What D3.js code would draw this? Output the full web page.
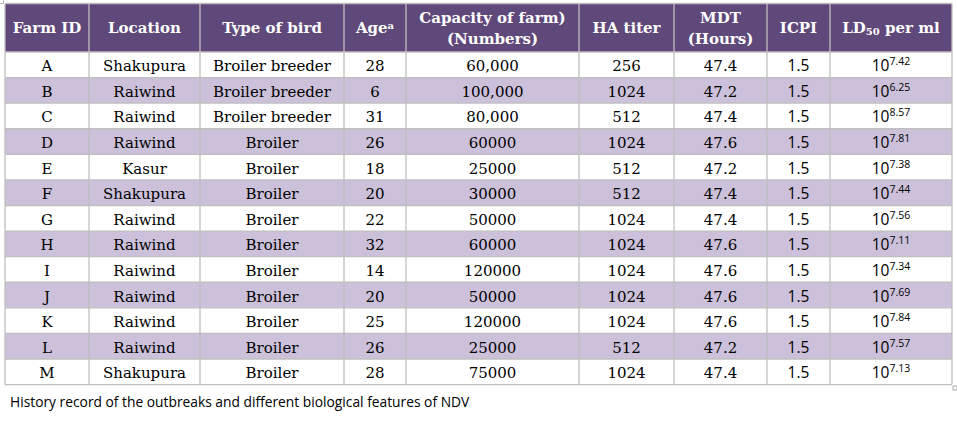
<!DOCTYPE html>
<html><head><meta charset="utf-8">
<script src="https://cdn.jsdelivr.net/npm/d3@7"></script>
<style>html,body{margin:0;padding:0;background:#fff;}svg{display:block;}</style>
</head><body>
<svg id="c" width="957" height="422"></svg>
<script>
const headers = [["Farm ID"],["Location"],["Type of bird"],["Age","a"],["Capacity of farm)","(Numbers)"],["HA titer"],["MDT","(Hours)"],["ICPI"],["LD50 per ml"]];
const farmIds = ["A","B","C","D","E","F","G","H","I","J","K","L","M"];
const locations = ["Shakupura","Raiwind","Raiwind","Raiwind","Kasur","Shakupura","Raiwind","Raiwind","Raiwind","Raiwind","Raiwind","Raiwind","Shakupura"];
const birdTypes = ["Broiler breeder","Broiler breeder","Broiler breeder","Broiler","Broiler","Broiler","Broiler","Broiler","Broiler","Broiler","Broiler","Broiler","Broiler"];
const ages = [28,6,31,26,18,20,22,32,14,20,25,26,28];
const capacities = ["60,000","100,000","80,000","60000","25000","30000","50000","60000","120000","50000","120000","25000","75000"];
const haTiters = [256,1024,512,1024,512,512,1024,1024,1024,1024,1024,512,1024];
const mdt = ["47.4","47.2","47.4","47.6","47.2","47.4","47.4","47.6","47.6","47.6","47.6","47.2","47.4"];
const icpi = ["1.5","1.5","1.5","1.5","1.5","1.5","1.5","1.5","1.5","1.5","1.5","1.5","1.5"];
const ld50Exp = ["7.42","6.25","8.57","7.81","7.38","7.44","7.56","7.11","7.34","7.69","7.84","7.57","7.13"];
const caption = "History record of the outbreaks and different biological features of NDV";

const colEdges = [5,89,200,344,406,579,674,767,830,952];
const headTop = 3.5, headBottom = 52, tableBottom = 384.6;
const serif = "'DejaVu Serif', serif", sans = "'Open Sans', 'Liberation Sans', sans-serif";

const svg = d3.select("#c");
const nRows = farmIds.length;
const y = d3.scaleBand().domain(d3.range(nRows)).range([headBottom, tableBottom]).paddingInner(0).paddingOuter(0);
const colMid = i => (colEdges[i] + colEdges[i+1]) / 2;

// header background
svg.append("rect").attr("x",colEdges[0]).attr("y",headTop).attr("width",colEdges[9]-colEdges[0]).attr("height",headBottom-headTop).attr("fill","#5F497A");
// row backgrounds
svg.selectAll("rect.row").data(d3.range(nRows)).join("rect").attr("class","row")
  .attr("x",colEdges[0]).attr("y",i=>y(i)).attr("width",colEdges[9]-colEdges[0]).attr("height",y.bandwidth())
  .attr("fill",i=> i%2===1 ? "#CCC0DA" : "#FFFFFF");

// grid lines
const grid = svg.append("g").attr("stroke","#BFBFBF").attr("stroke-width",1.3);
colEdges.forEach(x=>grid.append("line").attr("x1",x).attr("x2",x).attr("y1",headTop).attr("y2",tableBottom));
[headTop, headBottom, ...d3.range(1,nRows+1).map(i=>y(i-1)+y.bandwidth())].forEach(yy=>grid.append("line").attr("x1",colEdges[0]).attr("x2",colEdges[9]).attr("y1",yy).attr("y2",yy));

// header text
headers.forEach((h,i)=>{
  const t = svg.append("text").attr("x",colMid(i)).attr("text-anchor","middle").attr("fill","#fff").attr("font-family",serif).attr("font-weight","bold").attr("font-size",15);
  if (i===3) {
    t.attr("y",33).text("Age");
    t.append("tspan").attr("font-size",10).attr("dy",-4).text("a");
  } else if (i===8) {
    t.attr("y",33).text("LD");
    t.append("tspan").attr("font-size",10).attr("dy",2).text("50");
    t.append("tspan").attr("dy",-2).text(" per ml");
  } else if (h.length===2) {
    t.append("tspan").attr("x",colMid(i)).attr("y",22.5).text(h[0]);
    t.append("tspan").attr("x",colMid(i)).attr("y",44).text(h[1]);
  } else {
    t.attr("y",33).text(h[0]);
  }
});

const cols = [farmIds, locations, birdTypes, ages, capacities, haTiters, mdt];
cols.forEach((arr,ci)=>{
  svg.append("g").selectAll("text").data(arr).join("text")
    .attr("x",colMid(ci)).attr("y",(d,i)=>y(i)+y.bandwidth()/2+6.5)
    .attr("text-anchor","middle").attr("font-family",serif).attr("font-size",15).attr("fill","#000")
    .text(d=>d);
});
svg.append("g").selectAll("text").data(icpi).join("text")
  .attr("x",colMid(7)).attr("y",(d,i)=>y(i)+y.bandwidth()/2+6.5)
  .attr("text-anchor","middle").attr("font-family",sans).attr("font-size",15.5).attr("fill","#000").text(d=>d);
const ld = svg.append("g").selectAll("text").data(ld50Exp).join("text")
  .attr("x",colMid(8)).attr("y",(d,i)=>y(i)+y.bandwidth()/2+6.5)
  .attr("text-anchor","middle").attr("font-family",sans).attr("font-size",15.5).attr("fill","#000");
ld.append("tspan").text("10");
ld.append("tspan").attr("font-size",10.5).attr("dy",-6).text(d=>d);

svg.append("text").attr("x",10).attr("y",407).attr("font-family",sans).attr("font-size",13.8).attr("fill","#000").text(caption);
svg.append("rect").attr("x",953).attr("y",386).attr("width",4).attr("height",4).attr("fill","none").attr("stroke","#999").attr("stroke-width",0.8);
svg.append("path").attr("d","M0.5,3.5H3.5V0.5").attr("fill","none").attr("stroke","#999").attr("stroke-width",0.8);
</script>
</body></html>
